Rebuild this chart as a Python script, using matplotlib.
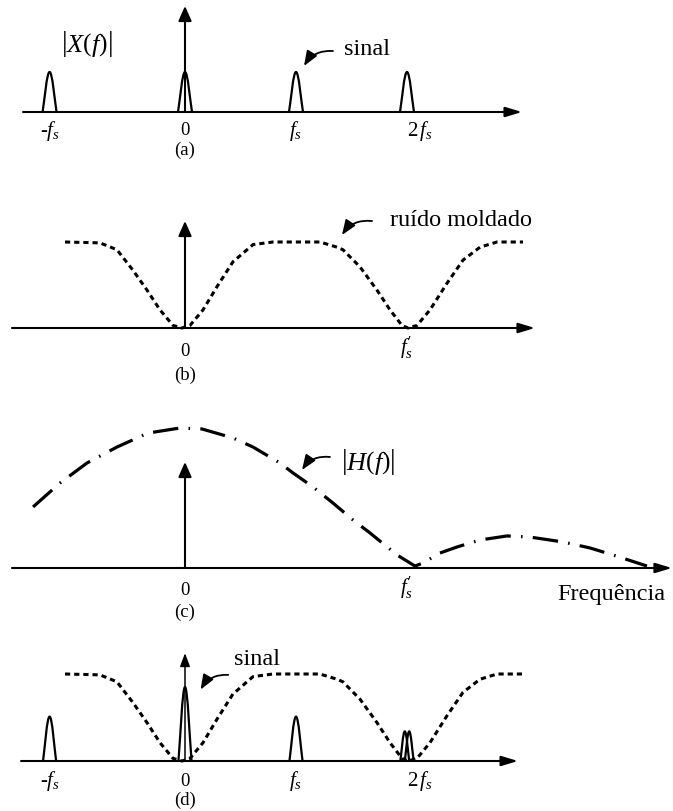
import matplotlib
matplotlib.use("Agg")
import matplotlib.pyplot as plt
from matplotlib.path import Path
from matplotlib.patches import PathPatch

plt.rcParams["font.family"] = ["Liberation Serif", "DejaVu Serif"]
plt.rcParams["mathtext.fontset"] = "custom"
plt.rcParams["mathtext.rm"] = "Liberation Serif"
plt.rcParams["mathtext.it"] = "Liberation Serif:italic"
plt.rcParams["mathtext.bf"] = "Liberation Serif:bold"

# ---------------------------------------------------------------- data
# Frequencies are in units of fs.

# (a) spectrum of the sampled signal
signal_freqs = [-1.22, 0.0, 1.0, 2.0]
signal_heights = [1.0, 1.0, 1.0, 1.0]
signal_tick_pos = [-1.22, 0.0, 1.0, 2.12]
signal_tick_labels = [r"-$f_s$", "0", r"$f_s$", r"$2\,f_s$"]

# (b) shaped quantisation noise
noise_f = [-1.081, -0.766, -0.613, -0.468, -0.342, -0.225, -0.108, -0.027,
           0.045, 0.162, 0.288, 0.432, 0.613, 0.793, 1.216, 1.369, 1.423,
           1.577, 1.730, 1.847, 1.955, 2.009, 2.090, 2.207, 2.360, 2.505,
           2.658, 2.811, 3.045]
noise_level = [1.0, 0.99, 0.91, 0.67, 0.44, 0.21, 0.03, 0.0,
               0.03, 0.21, 0.48, 0.77, 0.97, 1.0, 1.0, 0.94, 0.91,
               0.71, 0.44, 0.21, 0.03, 0.0, 0.03, 0.21, 0.52, 0.79,
               0.94, 1.0, 1.0]
noise_tick_pos = [0.0, 2.0]
noise_tick_labels = ["0", r"$f^{′}_{s}$"]

# (c) decimation filter magnitude |H(f)|
hf_f = [-1.369, -1.126, -0.883, -0.613, -0.333, -0.045, 0.153, 0.432,
        0.613, 0.856, 0.973, 1.153, 1.333, 1.514, 1.667, 1.910, 2.027,
        2.072, 2.144, 2.297, 2.450, 2.658, 2.901, 3.108, 3.405, 3.649,
        3.856, 4.162]
hf_level = [0.436, 0.607, 0.75, 0.864, 0.964, 1.0, 0.993, 0.929,
            0.864, 0.75, 0.679, 0.579, 0.464, 0.343, 0.25, 0.093, 0.036,
            0.014, 0.036, 0.107, 0.15, 0.2, 0.229, 0.221, 0.186, 0.143,
            0.093, 0.014]

# (d) signal and noise after filtering
out_freqs = [-1.22, 0.0, 1.0, 1.98, 2.02]
out_heights = [0.51, 0.85, 0.51, 0.34, 0.34]
out_tick_pos = [-1.22, 0.0, 1.0, 2.12]
out_tick_labels = [r"-$f_s$", "0", r"$f_s$", r"$2\,f_s$"]

# ---------------------------------------------------------------- layout
W, H = 673, 811
X0, PX_PER_F = 185.0, 111.0

fig = plt.figure(figsize=(W / 100, H / 100), dpi=100)
fig.patch.set_facecolor("white")

LABEL_FS = 13.5
MATH_FS = 15
WORD_FS = 17.5


def make_panel(top, bottom, base, unit):
    ax = fig.add_axes([0, 1 - bottom / H, 1, (bottom - top) / H])
    ax.set_xlim(-X0 / PX_PER_F, (W - X0) / PX_PER_F)
    ax.set_ylim(-(bottom - base) / unit, (base - top) / unit)
    ax.axis("off")
    return ax


def arrow(ax, start, end, lw=1.5, hl=1.0, hw=0.3):
    ax.annotate("", xy=end, xytext=start, annotation_clip=False,
                arrowprops=dict(arrowstyle=f"-|>,head_length={hl},head_width={hw}",
                                lw=lw, color="black", shrinkA=0, shrinkB=0))


def pointer(ax, tail, tip):
    ax.annotate("", xy=tip, xytext=tail, annotation_clip=False,
                arrowprops=dict(arrowstyle="-|>,head_length=0.9,head_width=0.35",
                                connectionstyle="arc3,rad=0.3",
                                lw=1.3, color="black", shrinkA=0, shrinkB=0))


def pulse(ax, c, h, w, lw=1.6):
    verts = [(c - w, 0), (c - 0.72 * w, 0.3 * h), (c - 0.4 * w, h), (c, h),
             (c + 0.4 * w, h), (c + 0.72 * w, 0.3 * h), (c + w, 0)]
    codes = [Path.MOVETO] + [Path.CURVE4] * 6
    ax.add_patch(PathPatch(Path(verts, codes), fill=False, lw=lw,
                           edgecolor="black", clip_on=False))


def label(ax, x, y, txt):
    size = MATH_FS if "$" in txt else LABEL_FS
    ax.text(x, y, txt, ha="center", va="baseline", fontsize=size)


NOISE_STYLE = dict(color="black", lw=2.2, linestyle=(0, (1.7, 1.3)),
                   solid_capstyle="butt", clip_on=False)

# ---------------------------------------------------------------- (a)
ax = make_panel(0, 165, 112, 40.0)
arrow(ax, (-1.459, 0), (3.036, 0), lw=1.5)
arrow(ax, (0, 0), (0, 2.65), lw=1.5, hl=0.9, hw=0.4)
for f, h in zip(signal_freqs, signal_heights):
    pulse(ax, f, h, 0.063)
for x, lab in zip(signal_tick_pos, signal_tick_labels):
    label(ax, x, -0.6 if "$" in lab else -0.58, lab)
label(ax, 0, -1.08, "(a)")
ax.text(-0.883, 1.7, r"$\left|X\left(f\right)\right|$", ha="center",
        va="center", fontsize=19)
ax.text(1.64, 1.425, "sinal", ha="center", va="baseline", fontsize=WORD_FS)
pointer(ax, (1.333, 1.525), (1.072, 1.15))

# ---------------------------------------------------------------- (b)
ax = make_panel(165, 390, 328, 86.0)
arrow(ax, (-1.559, 0), (3.153, 0), lw=1.5)
arrow(ax, (0, 0), (0, 1.244), lw=1.5, hl=0.9, hw=0.4)
ax.plot(noise_f, noise_level, **NOISE_STYLE)
label(ax, noise_tick_pos[0], -0.326, noise_tick_labels[0])
label(ax, noise_tick_pos[1], -0.30, noise_tick_labels[1])
label(ax, 0, -0.605, "(b)")
ax.text(2.486, 1.186, "ruído moldado", ha="center", va="baseline",
        fontsize=WORD_FS)
pointer(ax, (1.685, 1.244), (1.414, 1.081))

# ---------------------------------------------------------------- (c)
ax = make_panel(390, 625, 568, 140.0)
arrow(ax, (-1.559, 0), (4.387, 0), lw=1.5)
arrow(ax, (0, 0), (0, 0.757), lw=1.5, hl=0.9, hw=0.4)
ax.plot(hf_f, hf_level, color="black", lw=2.3,
        linestyle=(0, (8.0, 3.2, 0.5, 3.2)), clip_on=False)
label(ax, 0, -0.193, "0")
label(ax, 2.0, -0.185, noise_tick_labels[1])
label(ax, 0, -0.35, "(c)")
ax.text(3.838, -0.229, "Frequência", ha="center", va="baseline",
        fontsize=WORD_FS)
ax.text(1.649, 0.757, r"$\left|H\left(f\right)\right|$", ha="center",
        va="center", fontsize=19)
pointer(ax, (1.306, 0.793), (1.054, 0.70))

# ---------------------------------------------------------------- (d)
ax = make_panel(625, 811, 761, 87.0)
arrow(ax, (-1.477, 0), (3.0, 0), lw=1.5)
arrow(ax, (0, 0), (0, 1.24), lw=1.1, hl=0.8, hw=0.3)
ax.plot(noise_f, noise_level, **NOISE_STYLE)
for f, h, w in zip(out_freqs, out_heights, [0.059, 0.059, 0.059, 0.04, 0.04]):
    pulse(ax, f, h, w)
for x, lab in zip(out_tick_pos, out_tick_labels):
    label(ax, x, -0.29, lab)
label(ax, 0, -0.506, "(d)")
ax.text(0.649, 1.10, "sinal", ha="center", va="baseline", fontsize=WORD_FS)
pointer(ax, (0.39, 0.99), (0.14, 0.82))

fig.savefig("out.png", dpi=100, facecolor="white")
